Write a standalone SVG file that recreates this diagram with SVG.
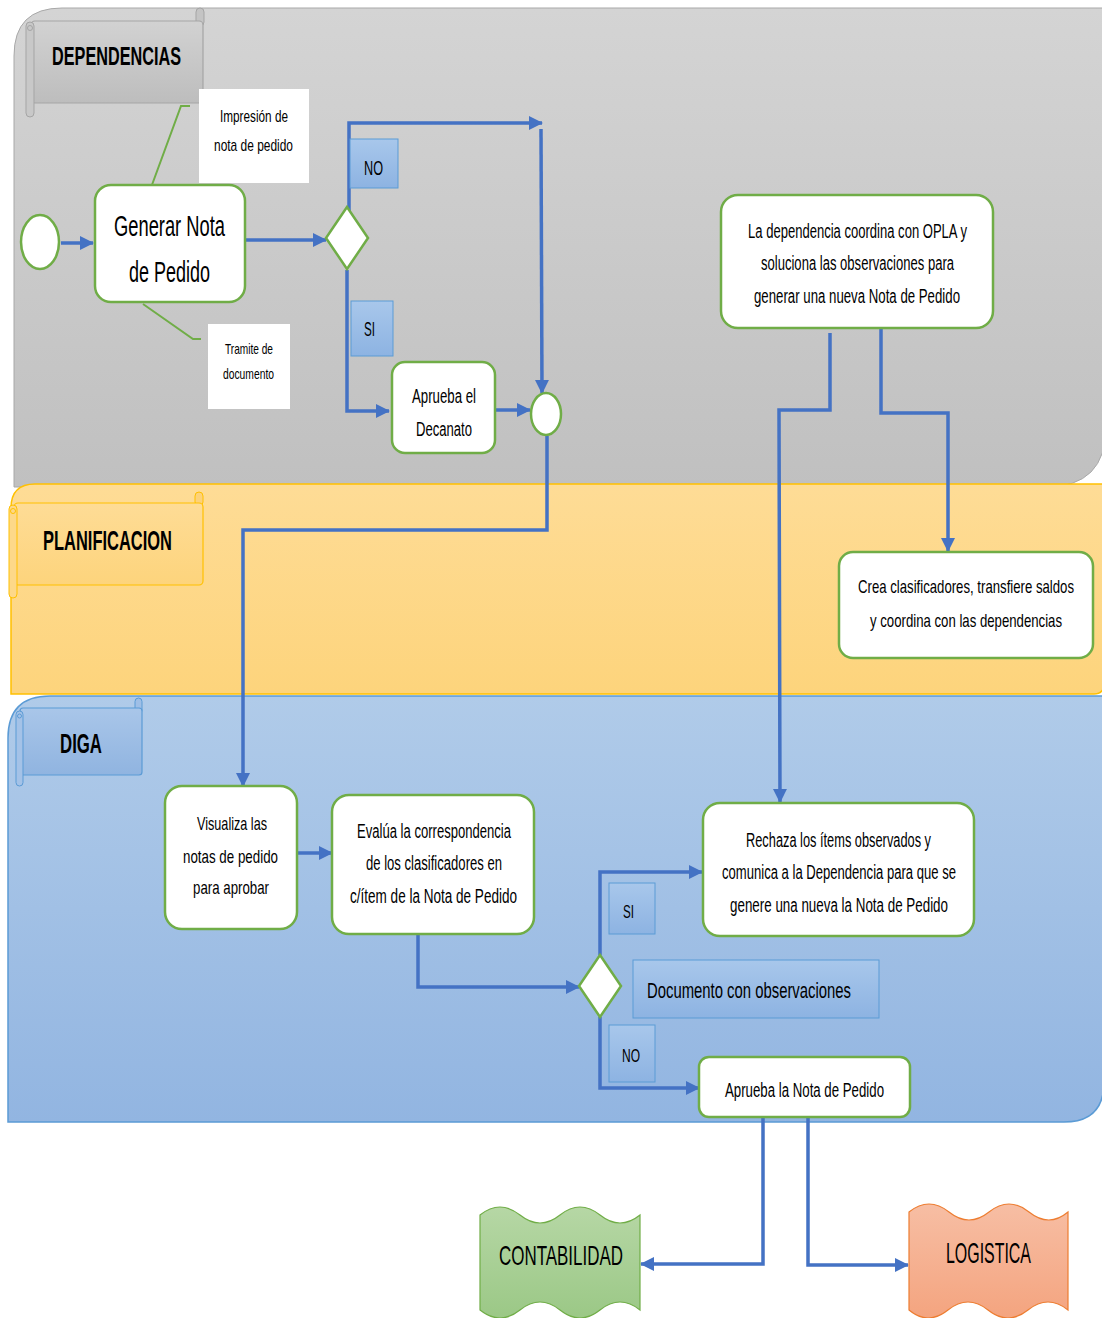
<svg xmlns="http://www.w3.org/2000/svg" width="1102" height="1318" viewBox="0 0 1102 1318">
<defs>
<linearGradient id="gGray" x1="0" y1="0" x2="0" y2="1"><stop offset="0" stop-color="#d4d4d4"/><stop offset="1" stop-color="#c0c0c0"/></linearGradient>
<linearGradient id="gYel" x1="0" y1="0" x2="0" y2="1"><stop offset="0" stop-color="#fedc96"/><stop offset="1" stop-color="#fdd47c"/></linearGradient>
<linearGradient id="gBlue" x1="0" y1="0" x2="0" y2="1"><stop offset="0" stop-color="#b0cbe9"/><stop offset="1" stop-color="#92b5e1"/></linearGradient>
<linearGradient id="gHGray" x1="0" y1="0" x2="0" y2="1"><stop offset="0" stop-color="#d2d2d2"/><stop offset="1" stop-color="#bdbdbd"/></linearGradient>
<linearGradient id="gHBlue" x1="0" y1="0" x2="0" y2="1"><stop offset="0" stop-color="#a9c6e9"/><stop offset="1" stop-color="#90b4e0"/></linearGradient>
<linearGradient id="gLbl" x1="0" y1="0" x2="0" y2="1"><stop offset="0" stop-color="#a8c7eb"/><stop offset="1" stop-color="#8db3e2"/></linearGradient>
<linearGradient id="gGreen" x1="0" y1="0" x2="0" y2="1"><stop offset="0" stop-color="#b6d7a5"/><stop offset="1" stop-color="#9bc886"/></linearGradient>
<linearGradient id="gOrange" x1="0" y1="0" x2="0" y2="1"><stop offset="0" stop-color="#f7bea4"/><stop offset="1" stop-color="#f4a47f"/></linearGradient>
<marker id="ah" viewBox="0 0 14 14" refX="13" refY="7" markerWidth="14" markerHeight="14" markerUnits="userSpaceOnUse" orient="auto"><path d="M0,0 L14,7 L0,14 z" fill="#4472c4"/></marker>
</defs>
<style>
.node{fill:#ffffff;stroke:#70ad47;stroke-width:2.5}
.call{fill:#ffffff}
.lbl{fill:url(#gLbl);stroke:#5b9bd5;stroke-width:1}
.conn{fill:none;stroke:#4472c4;stroke-width:3.5}
.t{font-family:"Liberation Sans Narrow","Liberation Sans",Arial,sans-serif;fill:#000000}
.b{font-weight:bold}
.lead{fill:none;stroke:#70ad47;stroke-width:2}
</style>

<g id="lanes">
<path d="M14,487 L14,56 Q14,8 62,8 L1106,8 L1106,427 Q1106,487 1046,487 Z" fill="url(#gGray)" stroke="#a8a8a8" stroke-width="1"/>
<path d="M11,694 L11,508 Q11,484 35,484 L1104,484 L1104,684 Q1104,694 1094,694 Z" fill="url(#gYel)" stroke="#ffc000" stroke-width="1.5"/>
<path d="M8,1122 L8,738 Q8,696 50,696 L1104,696 L1104,1082 Q1104,1122 1064,1122 Z" fill="url(#gBlue)" stroke="#5b9bd5" stroke-width="1.5"/>
</g>

<g id="hdr-dependencias">
<rect x="196" y="8" width="8" height="18" rx="4" fill="#c4c4c4" stroke="#a5a5a5"/>
<rect x="31" y="21" width="172" height="82" rx="4" fill="url(#gHGray)" stroke="#a5a5a5" stroke-width="1.2"/>
<rect x="26" y="22" width="8" height="95" rx="4" fill="#c8c8c8" stroke="#a5a5a5"/>
<circle cx="30" cy="28" r="2.5" fill="none" stroke="#a5a5a5"/>
<text class="t b" x="52" y="65" font-size="26" textLength="129" lengthAdjust="spacingAndGlyphs">DEPENDENCIAS</text>
</g>

<g id="hdr-planificacion">
<rect x="195" y="492" width="8" height="14" rx="4" fill="#fdd27a" stroke="#ffc000"/>
<rect x="14" y="503" width="189" height="82" rx="4" fill="url(#gYel)" stroke="#ffc000" stroke-width="1.2"/>
<rect x="9" y="505" width="8" height="93" rx="4" fill="#fdd889" stroke="#ffc000"/>
<circle cx="13" cy="511" r="2.5" fill="none" stroke="#ffc000"/>
<text class="t b" x="43" y="550" font-size="28" textLength="129" lengthAdjust="spacingAndGlyphs">PLANIFICACION</text>
</g>

<g id="hdr-diga">
<rect x="135" y="698" width="7" height="16" rx="3.5" fill="#9fbfe6" stroke="#5b9bd5"/>
<rect x="20" y="708" width="122" height="67" rx="3" fill="url(#gHBlue)" stroke="#5b9bd5" stroke-width="1.2"/>
<rect x="16" y="711" width="7" height="75" rx="3.5" fill="#a4c2e7" stroke="#5b9bd5"/>
<circle cx="19.5" cy="716" r="2" fill="none" stroke="#5b9bd5"/>
<text class="t b" x="60" y="753" font-size="28" textLength="42" lengthAdjust="spacingAndGlyphs">DIGA</text>
</g>

<g id="connectors">
<path class="lead" d="M149,193 L181,106 L190,106"/>
<path class="lead" d="M143,304 L193,339 L201,339"/>
<path class="conn" marker-end="url(#ah)" d="M61,243 L93,243"/>
<path class="conn" marker-end="url(#ah)" d="M246,240 L326,240"/>
<path class="conn" marker-end="url(#ah)" d="M349,214 L349,123 L542,123"/>
<path class="conn" marker-end="url(#ah)" d="M541,129 L542,393"/>
<path class="conn" marker-end="url(#ah)" d="M347,270 L347,411 L389,411"/>
<path class="conn" marker-end="url(#ah)" d="M496,410 L530,410"/>
<path class="conn" marker-end="url(#ah)" d="M547,436 L547,530 L243,530 L243,786"/>
<path class="conn" marker-end="url(#ah)" d="M830,333 L830,410 L779,410 L780,802"/>
<path class="conn" marker-end="url(#ah)" d="M881,328 L881,413 L948,413 L948,551"/>
<path class="conn" marker-end="url(#ah)" d="M298,853 L332,853"/>
<path class="conn" marker-end="url(#ah)" d="M418,934 L418,987 L579,987"/>
<path class="conn" marker-end="url(#ah)" d="M600,955 L600,872 L702,872"/>
<path class="conn" marker-end="url(#ah)" d="M600,1017 L600,1088 L699,1088"/>
<path class="conn" marker-end="url(#ah)" d="M763,1117 L763,1264 L641,1264"/>
<path class="conn" marker-end="url(#ah)" d="M808,1117 L808,1265 L908,1265"/>
</g>

<g id="start"><ellipse cx="40" cy="242" rx="19" ry="27" class="node"/></g>

<g id="generar">
<rect x="95" y="185" width="150" height="117" rx="16" class="node"/>
<text class="t" x="114" y="236" font-size="29" textLength="111" lengthAdjust="spacingAndGlyphs">Generar Nota</text>
<text class="t" x="129" y="282" font-size="29" textLength="81" lengthAdjust="spacingAndGlyphs">de Pedido</text>
</g>

<g id="callout-impresion">
<rect x="199" y="89" width="110" height="94" class="call"/>
<text class="t" x="220" y="122" font-size="17" textLength="68" lengthAdjust="spacingAndGlyphs">Impresión de</text>
<text class="t" x="214" y="151" font-size="17" textLength="79" lengthAdjust="spacingAndGlyphs">nota de pedido</text>
</g>

<g id="callout-tramite">
<rect x="208" y="324" width="82" height="85" class="call"/>
<text class="t" x="225" y="354" font-size="15" textLength="48" lengthAdjust="spacingAndGlyphs">Tramite de</text>
<text class="t" x="223" y="379" font-size="15" textLength="51" lengthAdjust="spacingAndGlyphs">documento</text>
</g>

<g id="decision1"><path d="M347,207 L368,238 L347,269 L326,238 Z" class="node"/></g>

<g id="label-no1">
<rect x="350" y="139" width="48" height="49" class="lbl"/>
<text class="t" x="364" y="175" font-size="20" textLength="19" lengthAdjust="spacingAndGlyphs">NO</text>
</g>
<g id="label-si1">
<rect x="351" y="301" width="42" height="55" class="lbl"/>
<text class="t" x="364" y="336" font-size="20" textLength="11" lengthAdjust="spacingAndGlyphs">SI</text>
</g>

<g id="decanato">
<rect x="392" y="362" width="103" height="91" rx="13" class="node"/>
<text class="t" x="412" y="403" font-size="20" textLength="64" lengthAdjust="spacingAndGlyphs">Aprueba el</text>
<text class="t" x="416" y="436" font-size="20" textLength="56" lengthAdjust="spacingAndGlyphs">Decanato</text>
</g>

<g id="merge"><ellipse cx="546" cy="414" rx="15" ry="21" class="node"/></g>

<g id="coordina">
<rect x="721" y="195" width="272" height="133" rx="17" class="node"/>
<text class="t" x="748" y="238" font-size="20" textLength="219" lengthAdjust="spacingAndGlyphs">La dependencia coordina con OPLA y</text>
<text class="t" x="761" y="270" font-size="20" textLength="193" lengthAdjust="spacingAndGlyphs">soluciona las observaciones para</text>
<text class="t" x="754" y="303" font-size="20" textLength="206" lengthAdjust="spacingAndGlyphs">generar una nueva Nota de Pedido</text>
</g>

<g id="crea">
<rect x="839" y="552" width="254" height="106" rx="14" class="node"/>
<text class="t" transform="translate(858,593) scale(1,1.3)" x="0" y="0" font-size="14.8" textLength="216" lengthAdjust="spacingAndGlyphs">Crea clasificadores, transfiere saldos</text>
<text class="t" transform="translate(870,627) scale(1,1.3)" x="0" y="0" font-size="14.8" textLength="192" lengthAdjust="spacingAndGlyphs">y coordina con las dependencias</text>
</g>

<g id="visualiza">
<rect x="165" y="786" width="132" height="143" rx="17" class="node"/>
<text class="t" x="197" y="830" font-size="19" textLength="70" lengthAdjust="spacingAndGlyphs">Visualiza las</text>
<text class="t" x="183" y="863" font-size="19" textLength="95" lengthAdjust="spacingAndGlyphs">notas de pedido</text>
<text class="t" x="193" y="894" font-size="19" textLength="76" lengthAdjust="spacingAndGlyphs">para aprobar</text>
</g>

<g id="evalua">
<rect x="332" y="795" width="202" height="139" rx="17" class="node"/>
<text class="t" x="357" y="838" font-size="20" textLength="154" lengthAdjust="spacingAndGlyphs">Evalúa la correspondencia</text>
<text class="t" x="366" y="870" font-size="20" textLength="136" lengthAdjust="spacingAndGlyphs">de los clasificadores en</text>
<text class="t" x="350" y="903" font-size="20" textLength="167" lengthAdjust="spacingAndGlyphs">c/ítem de la Nota de Pedido</text>
</g>

<g id="decision2"><path d="M600,955 L621,986 L600,1017 L579,986 Z" class="node"/></g>

<g id="label-si2">
<rect x="609" y="883" width="46" height="51" class="lbl"/>
<text class="t" x="623" y="918" font-size="19" textLength="11" lengthAdjust="spacingAndGlyphs">SI</text>
</g>
<g id="label-doc">
<rect x="633" y="960" width="246" height="58" class="lbl" stroke="#6aa6dc"/>
<text class="t" x="647" y="998" font-size="22" textLength="204" lengthAdjust="spacingAndGlyphs">Documento con observaciones</text>
</g>
<g id="label-no2">
<rect x="609" y="1025" width="46" height="57" class="lbl"/>
<text class="t" x="622" y="1062" font-size="19" textLength="18" lengthAdjust="spacingAndGlyphs">NO</text>
</g>

<g id="rechaza">
<rect x="703" y="803" width="271" height="133" rx="17" class="node"/>
<text class="t" x="746" y="847" font-size="20" textLength="185" lengthAdjust="spacingAndGlyphs">Rechaza los ítems observados y</text>
<text class="t" x="722" y="879" font-size="20" textLength="234" lengthAdjust="spacingAndGlyphs">comunica a la Dependencia para que se</text>
<text class="t" x="730" y="912" font-size="20" textLength="218" lengthAdjust="spacingAndGlyphs">genere una nueva  la Nota de Pedido</text>
</g>

<g id="aprueba-nota">
<rect x="699" y="1057" width="211" height="60" rx="10" class="node"/>
<text class="t" x="725" y="1097" font-size="20" textLength="159" lengthAdjust="spacingAndGlyphs">Aprueba la Nota de Pedido</text>
</g>

<g id="contabilidad">
<path d="M480,1215 q20,-16 40,0 t40,0 t40,0 t40,0 L640,1310 q-20,-16 -40,0 t-40,0 t-40,0 t-40,0 Z" fill="url(#gGreen)" stroke="#70ad47" stroke-width="1.2"/>
<text class="t" x="499" y="1265" font-size="28" textLength="124" lengthAdjust="spacingAndGlyphs">CONTABILIDAD</text>
</g>

<g id="logistica">
<path d="M909,1212 q20,-16 40,0 t40,0 t40,0 t39,0 L1068,1310 q-20,-16 -40,0 t-40,0 t-40,0 t-39,0 Z" fill="url(#gOrange)" stroke="#ed7d31" stroke-width="1.2"/>
<text class="t" x="946" y="1263" font-size="29" textLength="85" lengthAdjust="spacingAndGlyphs">LOGISTICA</text>
</g>
</svg>
